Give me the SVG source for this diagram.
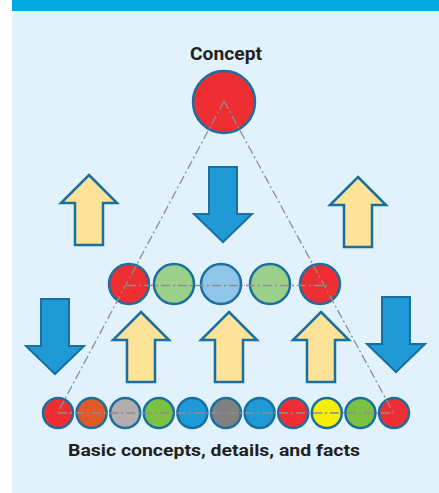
<svg xmlns="http://www.w3.org/2000/svg" width="439" height="493" viewBox="0 0 439 493">
<style>
.c{stroke:#1a6f9f;stroke-width:2.5}
.up{fill:#fde398;stroke:#1a6f9f;stroke-width:2.5;stroke-linejoin:miter}
.dn{fill:#1f9ad6;stroke:#1a6f9f;stroke-width:2;stroke-linejoin:miter}
.ln{fill:none;stroke:#8e8e8e;stroke-width:1.3;stroke-dasharray:9 3 2 3}
.t{font-family:Roboto,"Liberation Sans",sans-serif;font-weight:bold;fill:#231f20}
</style>
<defs>
<path id="upA" d="M0,0 L28,28 L14,28 L14,70 L-14,70 L-14,28 L-28,28 Z"/>
<path id="dnA" d="M-14,0 L14,0 L14,47 L29,47 L0,75 L-29,47 L-14,47 Z"/>
</defs>
<rect x="0" y="0" width="439" height="493" fill="#ffffff"/>
<rect x="12" y="0" width="427" height="493" fill="#e1f2fc"/>
<rect x="12" y="0" width="427" height="11" fill="#00a9e6"/>
<text class="t" x="226" y="60" font-size="17.5" text-anchor="middle" textLength="72" lengthAdjust="spacingAndGlyphs">Concept</text>
<g id="arrows">
<use href="#upA" class="up" x="89" y="175"/>
<use href="#upA" class="up" x="358" y="177"/>
<use href="#dnA" class="dn" x="223" y="167"/>
<use href="#dnA" class="dn" x="55" y="299"/>
<use href="#dnA" class="dn" x="396" y="297"/>
<use href="#upA" class="up" x="141" y="312"/>
<use href="#upA" class="up" x="229" y="312"/>
<use href="#upA" class="up" x="321" y="312"/>
</g>
<g id="top"><circle class="c" cx="224" cy="102" r="31" fill="#ee2e32"/></g>
<g id="mid">
<circle class="c" cx="129" cy="284" r="20" fill="#ee2e32"/>
<circle class="c" cx="174" cy="284" r="20" fill="#9bd08b"/>
<circle class="c" cx="221" cy="284" r="20" fill="#8ec5e8"/>
<circle class="c" cx="270" cy="284" r="20" fill="#9bd08b"/>
<circle class="c" cx="320" cy="284" r="20" fill="#ee2e32"/>
</g>
<g id="bottom">
<circle class="c" cx="58" cy="413" r="15" fill="#ee2e32"/>
<circle class="c" cx="91.6" cy="413" r="15" fill="#e05a28"/>
<circle class="c" cx="125.2" cy="413" r="15" fill="#b3aeae"/>
<circle class="c" cx="158.8" cy="413" r="15" fill="#7bc142"/>
<circle class="c" cx="192.4" cy="413" r="15" fill="#1f9ad6"/>
<circle class="c" cx="226" cy="413" r="15" fill="#808080"/>
<circle class="c" cx="259.6" cy="413" r="15" fill="#1f9ad6"/>
<circle class="c" cx="293.2" cy="413" r="15" fill="#ee2e32"/>
<circle class="c" cx="326.8" cy="413" r="15" fill="#f7ec0a"/>
<circle class="c" cx="360.4" cy="413" r="15" fill="#7bc142"/>
<circle class="c" cx="394" cy="413" r="15" fill="#ee2e32"/>
</g>
<g id="connectors">
<line class="ln" x1="224" y1="101" x2="58" y2="412"/>
<line class="ln" x1="224" y1="101" x2="393" y2="412"/>
<line class="ln" x1="127" y1="285.5" x2="327" y2="285.5"/>
<line class="ln" x1="58" y1="413" x2="394" y2="413"/>
</g>
<text class="t" x="214" y="456" font-size="16" text-anchor="middle" textLength="292" lengthAdjust="spacingAndGlyphs">Basic concepts, details, and facts</text>
</svg>
